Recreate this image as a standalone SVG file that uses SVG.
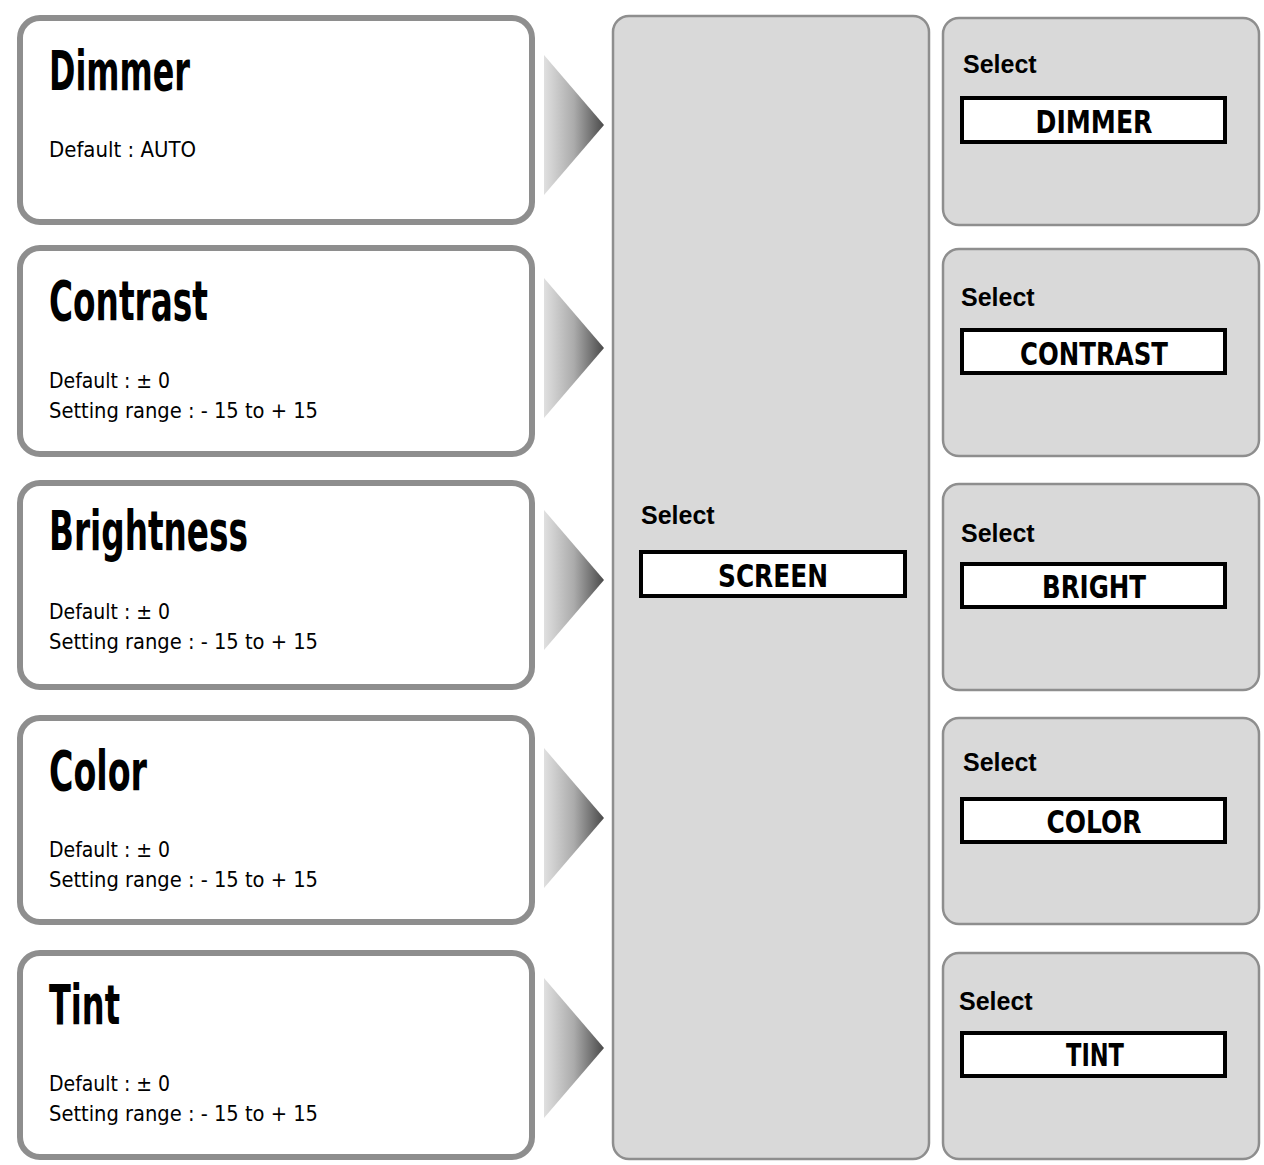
<svg xmlns="http://www.w3.org/2000/svg" width="1264" height="1165" viewBox="0 0 1264 1165">
<style>
.card{fill:#fff;stroke:#8e8e8e;stroke-width:6}
.panel{fill:#d9d9d9;stroke:#8e8e8e;stroke-width:2.5}
.lbl{fill:#fff;stroke:#000;stroke-width:4}
.title{font-family:"Liberation Sans Narrow","DejaVu Sans Condensed","Liberation Sans",sans-serif;font-weight:bold;font-size:56px;fill:#000}
.body{font-family:"Liberation Sans Narrow","DejaVu Sans Condensed","Liberation Sans",sans-serif;font-size:22px;fill:#000}
.sel{font-family:"Liberation Sans",Arial,sans-serif;font-weight:bold;font-size:25px;fill:#000}
.cap{font-family:"Liberation Sans Narrow","DejaVu Sans Condensed","Liberation Sans",sans-serif;font-weight:bold;font-size:32px;fill:#000;text-anchor:middle}
.arr{fill:url(#g)}
</style>
<defs>
<linearGradient id="g" x1="0" y1="0" x2="1" y2="0">
<stop offset="0" stop-color="#e0e0e0"/>
<stop offset="0.5" stop-color="#ababab"/>
<stop offset="1" stop-color="#4a4a4a"/>
</linearGradient>
</defs>
<rect width="1264" height="1165" fill="#fff"/>

<g id="card-dimmer">
<rect class="card" x="20" y="18" width="512" height="204" rx="20"/>
<text class="title" x="49" y="90" textLength="141" lengthAdjust="spacingAndGlyphs">Dimmer</text>
<text class="body" x="49" y="157" textLength="147" lengthAdjust="spacingAndGlyphs">Default : AUTO</text>
</g>
<g id="card-contrast">
<rect class="card" x="20" y="248" width="512" height="206" rx="20"/>
<text class="title" x="49" y="320" textLength="159" lengthAdjust="spacingAndGlyphs">Contrast</text>
<text class="body" x="49" y="388" textLength="121" lengthAdjust="spacingAndGlyphs">Default : ± 0</text>
<text class="body" x="49" y="418" textLength="269" lengthAdjust="spacingAndGlyphs">Setting range : - 15 to + 15</text>
</g>
<g id="card-brightness">
<rect class="card" x="20" y="483" width="512" height="204" rx="20"/>
<text class="title" x="49" y="550" textLength="199" lengthAdjust="spacingAndGlyphs">Brightness</text>
<text class="body" x="49" y="619" textLength="121" lengthAdjust="spacingAndGlyphs">Default : ± 0</text>
<text class="body" x="49" y="649" textLength="269" lengthAdjust="spacingAndGlyphs">Setting range : - 15 to + 15</text>
</g>
<g id="card-color">
<rect class="card" x="20" y="718" width="512" height="204" rx="20"/>
<text class="title" x="49" y="790" textLength="98" lengthAdjust="spacingAndGlyphs">Color</text>
<text class="body" x="49" y="857" textLength="121" lengthAdjust="spacingAndGlyphs">Default : ± 0</text>
<text class="body" x="49" y="887" textLength="269" lengthAdjust="spacingAndGlyphs">Setting range : - 15 to + 15</text>
</g>
<g id="card-tint">
<rect class="card" x="20" y="953" width="512" height="204" rx="20"/>
<text class="title" x="49" y="1024" textLength="71" lengthAdjust="spacingAndGlyphs">Tint</text>
<text class="body" x="49" y="1091" textLength="121" lengthAdjust="spacingAndGlyphs">Default : ± 0</text>
<text class="body" x="49" y="1121" textLength="269" lengthAdjust="spacingAndGlyphs">Setting range : - 15 to + 15</text>
</g>

<g id="connectors">
<polygon class="arr" points="544,55 604,125 544,195"/>
<polygon class="arr" points="544,278 604,348 544,418"/>
<polygon class="arr" points="544,510 604,580 544,650"/>
<polygon class="arr" points="544,748 604,818 544,888"/>
<polygon class="arr" points="544,978 604,1048 544,1118"/>
</g>

<g id="screen">
<rect class="panel" x="613" y="16" width="316" height="1143" rx="16"/>
<text class="sel" x="641" y="524">Select</text>
<rect class="lbl" x="641" y="552" width="264" height="44"/>
<text class="cap" x="773" y="587" textLength="110" lengthAdjust="spacingAndGlyphs">SCREEN</text>
</g>

<g id="sel-dimmer">
<rect class="panel" x="943" y="18" width="316" height="207" rx="16"/>
<text class="sel" x="963" y="73">Select</text>
<rect class="lbl" x="962" y="98" width="263" height="44"/>
<text class="cap" x="1094" y="133" textLength="117" lengthAdjust="spacingAndGlyphs">DIMMER</text>
</g>
<g id="sel-contrast">
<rect class="panel" x="943" y="249" width="316" height="207" rx="16"/>
<text class="sel" x="961" y="306">Select</text>
<rect class="lbl" x="962" y="330" width="263" height="43"/>
<text class="cap" x="1094" y="365" textLength="148" lengthAdjust="spacingAndGlyphs">CONTRAST</text>
</g>
<g id="sel-bright">
<rect class="panel" x="943" y="484" width="316" height="206" rx="16"/>
<text class="sel" x="961" y="542">Select</text>
<rect class="lbl" x="962" y="564" width="263" height="43"/>
<text class="cap" x="1094" y="598" textLength="104" lengthAdjust="spacingAndGlyphs">BRIGHT</text>
</g>
<g id="sel-color">
<rect class="panel" x="943" y="718" width="316" height="206" rx="16"/>
<text class="sel" x="963" y="771">Select</text>
<rect class="lbl" x="962" y="799" width="263" height="43"/>
<text class="cap" x="1094" y="833" textLength="95" lengthAdjust="spacingAndGlyphs">COLOR</text>
</g>
<g id="sel-tint">
<rect class="panel" x="943" y="953" width="316" height="206" rx="16"/>
<text class="sel" x="959" y="1010">Select</text>
<rect class="lbl" x="962" y="1033" width="263" height="43"/>
<text class="cap" x="1095" y="1066" textLength="58" lengthAdjust="spacingAndGlyphs">TINT</text>
</g>
</svg>
